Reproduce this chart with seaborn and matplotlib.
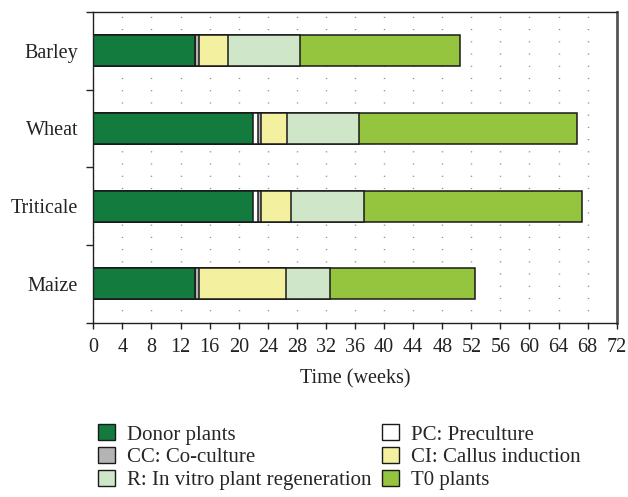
import pandas as pd
import matplotlib.pyplot as plt
import seaborn as sns
from matplotlib.patches import Patch

# Duración de cada etapa (semanas)
crops = ["Barley", "Wheat", "Triticale", "Maize"]
stages = ["Donor plants", "PC: Preculture", "CC: Co-culture",
          "CI: Callus induction", "R: In vitro plant regeneration", "T0 plants"]
donor = [14, 22, 22, 14]
preculture = [0, 0.6, 0.6, 0]
coculture = [0.5, 0.4, 0.4, 0.5]
callus = [4, 3.6, 4.2, 12]
regeneration = [10, 10, 10, 6]
t0 = [22, 30, 30, 20]
colors = ["#137b3e", "#ffffff", "#b4b4b4", "#f3f19f", "#cfe7c8", "#95c43f"]

df = pd.DataFrame({"crop": crops, stages[0]: donor, stages[1]: preculture,
                   stages[2]: coculture, stages[3]: callus,
                   stages[4]: regeneration, stages[5]: t0})
cum = df[stages].cumsum(axis=1)

sns.set_style("white")
plt.rcParams['font.family'] = ['Liberation Serif', 'DejaVu Serif']

fig = plt.figure(figsize=(6.28, 4.97), dpi=100)
ax = fig.add_axes([0.1486, 0.351, 0.8334, 0.625])

# barras apiladas: de la total hacia la primera etapa
for st, col in reversed(list(zip(stages, colors))):
    sns.barplot(x=cum[st], y=df["crop"], orient="h", color=col, width=0.4,
                edgecolor="#1a1a1a", linewidth=1.1, saturation=1, ax=ax)

ax.set_xlim(0, 72)
ax.set_ylim(3.5, -0.5)
ax.set_xticks(range(0, 73, 4))
ax.set_yticks([-0.5, 0.5, 1.5, 2.5, 3.5], minor=True)
ax.tick_params(axis="y", which="major", length=0, labelsize=14.5, pad=11, colors="#222222")
ax.tick_params(axis="y", which="minor", length=5, width=1, direction="out", left=True)
ax.tick_params(axis="x", length=4, width=1, direction="out", bottom=True,
               labelsize=14.5, pad=7, colors="#222222")
ax.set_xlabel("Time (weeks)", fontsize=14.5, labelpad=9, color="#222222")
ax.set_ylabel("")
ax.set_axisbelow(True)
ax.grid(axis="x", color="#888888", linewidth=1, linestyle=(0, (0.8, 8)))
ax.grid(axis="y", visible=False)
for s in ax.spines.values():
    s.set_visible(True)
    s.set_color("#222222")
    s.set_linewidth(1)
ax.spines["right"].set_color("#555555")
ax.spines["right"].set_linewidth(2)

order = [0, 2, 4, 1, 3, 5]
handles = [Patch(facecolor=colors[i], edgecolor="#1a1a1a", linewidth=1) for i in order]
labels = [stages[i] for i in order]
fig.legend(handles, labels, loc="upper left", bbox_to_anchor=(0.156, 0.146),
           ncol=2, frameon=False, fontsize=15, handlelength=0.8, handleheight=0.8,
           handletextpad=0.6, columnspacing=0.5, labelspacing=0.12,
           borderaxespad=0, borderpad=0)

fig.savefig("out.png", dpi=100)
